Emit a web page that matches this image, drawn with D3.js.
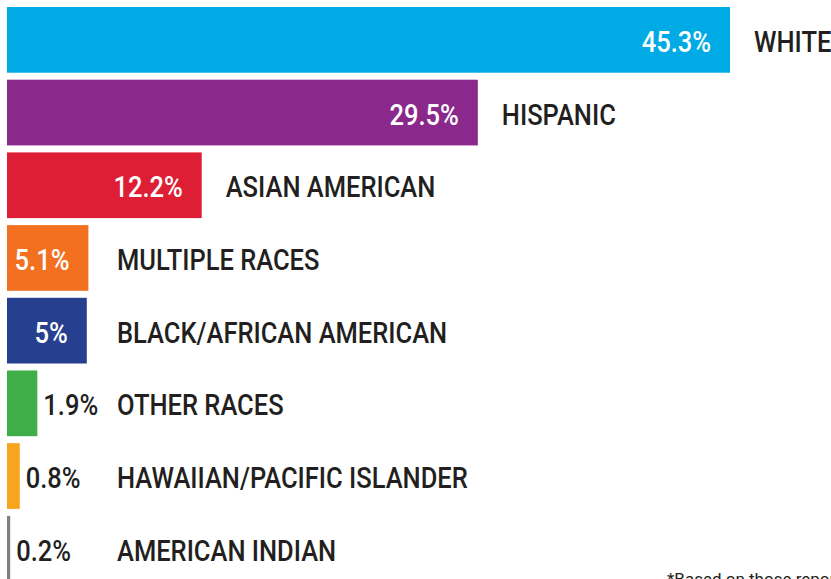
<!DOCTYPE html>
<html>
<head>
<meta charset="utf-8">
<script src="https://cdn.jsdelivr.net/npm/d3@7"></script>
<style>
  body { margin: 0; background: #fff; overflow: hidden; }
  svg { display: block; }
  .lbl { font-family: Roboto, "Liberation Sans", sans-serif; font-size: 30px; font-weight: 500; }
</style>
</head>
<body>
<div id="chart"></div>
<script>
const categories = ["WHITE", "HISPANIC", "ASIAN AMERICAN", "MULTIPLE RACES",
    "BLACK/AFRICAN AMERICAN", "OTHER RACES", "HAWAIIAN/PACIFIC ISLANDER", "AMERICAN INDIAN"];
const values = [45.3, 29.5, 12.2, 5.1, 5, 1.9, 0.8, 0.2];
const barColors = ["#00aae4", "#8b288b", "#dd1e34", "#f37021", "#263f8f", "#3fae49", "#f7a51d", "#7f7f84"];
const footnote = "*Based on those reporting race";

const width = 831, height = 579;
const squeeze = 0.85; // the original uses a condensed face
const data = categories.map((c, i) => ({ name: c, value: values[i] }));

const svg = d3.select("#chart").append("svg")
    .attr("width", width)
    .attr("height", height);

const x = d3.scaleLinear()
    .domain([0, 45.3])
    .range([7, 730]);

const y = d3.scaleBand()
    .domain(categories)
    .range([7, 581.6])
    .paddingInner(0.096)
    .paddingOuter(0);

const color = d3.scaleOrdinal()
    .domain(categories)
    .range(barColors);

// bars
svg.selectAll(".bar")
    .data(data)
    .enter().append("rect")
    .attr("class", "bar")
    .attr("x", x(0))
    .attr("y", d => y(d.name))
    .attr("width", d => x(d.value) - x(0))
    .attr("height", y.bandwidth())
    .style("fill", d => color(d.name));

// value labels: inside the bar when it fits, else just after it
const inside = d => d.value >= 5;
const baseY = d => y(d.name) + y.bandwidth() / 2 + 12;

svg.selectAll(".value")
    .data(data)
    .enter().append("text")
    .attr("class", "value lbl")
    .attr("transform", d => "translate(" + (inside(d) ? x(d.value) - 19 : x(d.value) + 6) + "," + baseY(d) + ") scale(" + squeeze + ",1)")
    .style("text-anchor", d => inside(d) ? "end" : "start")
    .style("fill", d => inside(d) ? "#fff" : "#231f20")
    .text(d => d.value + "%");

// category names
svg.selectAll(".name")
    .data(data)
    .enter().append("text")
    .attr("class", "name lbl")
    .attr("transform", d => "translate(" + Math.max(x(d.value) + 24, 117) + "," + baseY(d) + ") scale(" + squeeze + ",1)")
    .style("fill", "#231f20")
    .text(d => d.name);

svg.append("text")
    .attr("x", 667)
    .attr("y", 585)
    .style("font-family", "Roboto, sans-serif")
    .style("font-size", "17px")
    .style("fill", "#231f20")
    .text(footnote);
</script>
</body>
</html>
